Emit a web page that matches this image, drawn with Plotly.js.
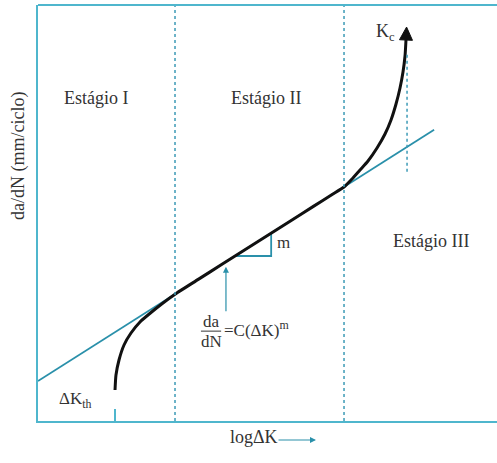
<!DOCTYPE html>
<html>
<head>
<meta charset="utf-8">
<script src="https://cdn.plot.ly/plotly-3.0.1.min.js"></script>
<style>html,body{margin:0;padding:0;background:#fff;}#chart{width:497px;height:463px;}</style>
</head>
<body>
<div id="chart"></div>
<script>
// Schematic coordinates (arbitrary log units, axis range 0..10)
const parisX = [0, 8.63];
const parisY = [0.96, 7.0];
const curveX = [1.678, 1.699, 1.765, 1.874, 2.026, 2.222, 2.462, 2.723, 2.985, 3.5, 4.0, 4.5, 5.0, 5.5, 6.0, 6.4, 6.667,
                6.841, 7.015, 7.190, 7.386, 7.560, 7.691, 7.800, 7.887, 7.952, 7.996, 8.017];
const curveY = [0.745, 1.106, 1.466, 1.827, 2.115, 2.380, 2.608, 2.837, 3.049, 3.410, 3.760, 4.110, 4.459, 4.809, 5.159, 5.439, 5.626,
                5.817, 6.034, 6.250, 6.563, 6.899, 7.236, 7.620, 8.005, 8.389, 8.774, 9.159];
const tipX = [8.017, 8.03];
const tipY = [9.159, 9.47];
const stageBounds = [2.985, 6.667];
const kcX = 8.04, kcY = [5.99, 8.85];
const dKth = 1.68;
const stageLabels = ['Estágio I', 'Estágio II', 'Estágio III'];
const stageLabelX = [1.275, 4.967, 8.562];
const stageLabelY = [7.76, 7.76, 4.33];
const slopeX = [4.295, 5.08];

const frame = '#4fb6cd';
const teal = '#2a90aa';
const txt = '#333333';
const serif = 'Liberation Serif, DejaVu Serif, serif';

const lineY = x => parisY[0] + (parisY[1]-parisY[0])/(parisX[1]-parisX[0])*(x-parisX[0]);

const traces = [
  {x: parisX, y: parisY, mode: 'lines', line: {color: teal, width: 1.8}, hoverinfo: 'skip'},
  {x: [slopeX[0], slopeX[1], slopeX[1]], y: [lineY(slopeX[0]), lineY(slopeX[0]), lineY(slopeX[1])],
   mode: 'lines', line: {color: teal, width: 1.8}, hoverinfo: 'skip'},
  {x: curveX, y: curveY, mode: 'lines', line: {color: '#111', width: 3, shape: 'spline', smoothing: 0.6}, hoverinfo: 'skip'},
  {x: tipX, y: tipY, mode: 'markers', marker: {symbol: 'arrow-up', size: [0, 13], color: '#111', opacity: 1, angleref: 'previous', line: {width: 1, color: '#111'}}, hoverinfo: 'skip'}
];

const shapes = [
  ...stageBounds.map(b => ({type: 'line', xref: 'x', yref: 'paper', x0: b, x1: b, y0: 0, y1: 1, line: {color: '#3d9ab6', width: 1.5, dash: 'dot'}})),
  {type: 'line', xref: 'x', yref: 'y', x0: kcX, x1: kcX, y0: kcY[0], y1: kcY[1], line: {color: '#3d9ab6', width: 1.5, dash: 'dot'}},
  {type: 'line', xref: 'paper', yref: 'paper', x0: 0, x1: 1, y0: 1, y1: 1, line: {color: frame, width: 2}},
  {type: 'line', xref: 'x', yref: 'y', x0: 3.55, x1: 3.99, y0: 2.16, y1: 2.16, line: {color: txt, width: 1}}
];

const A = (o) => Object.assign({xref: 'x', yref: 'y', xanchor: 'center', yanchor: 'middle', showarrow: false,
                                font: {family: serif, size: 18, color: txt}}, o);

const annotations = [
  ...stageLabels.map((t, i) => A({x: stageLabelX[i], y: stageLabelY[i], text: t})),
  A({x: 7.58, y: 9.33, text: 'K<sub>c</sub>'}),
  A({x: 0.82, y: 0.5, text: 'ΔK<sub>th</sub>', font: {family: serif, size: 17, color: txt}}),
  A({x: 5.34, y: 4.3, text: 'm', font: {family: serif, size: 17, color: txt}}),
  A({x: 3.77, y: 2.40, text: 'da', font: {family: serif, size: 17, color: txt}}),
  A({x: 3.77, y: 1.90, text: 'dN', font: {family: serif, size: 17, color: txt}}),
  A({x: 4.76, y: 2.2, text: '=C(ΔK)<sup>m</sup>', font: {family: serif, size: 17, color: txt}}),
  {x: 4.095, y: lineY(4.095) - 0.12, ax: 4.095, ay: 2.6, xref: 'x', yref: 'y', axref: 'x', ayref: 'y', text: '', showarrow: true, arrowhead: 2, arrowsize: 1, arrowwidth: 1.2, arrowcolor: teal},
  A({x: 0.4706, y: -0.0385, xref: 'paper', yref: 'paper', text: 'logΔK'}),
  {x: 0.6057, y: -0.0457, xref: 'paper', yref: 'paper', ax: -39, ay: 0, text: '', showarrow: true, arrowhead: 2, arrowsize: 1, arrowwidth: 1.2, arrowcolor: teal},
  A({x: -0.0436, y: 0.637, xref: 'paper', yref: 'paper', text: 'da/dN (mm/ciclo)', textangle: -90})
];

const layout = {
  width: 497, height: 463,
  margin: {l: 38, r: 0, t: 5, b: 42},
  paper_bgcolor: '#fff', plot_bgcolor: '#fff',
  showlegend: false,
  xaxis: {range: [0, 10], showgrid: false, zeroline: false, showline: true, linecolor: frame, linewidth: 2,
          tickvals: [dKth], ticks: 'inside', ticklen: 12, tickwidth: 2, tickcolor: frame, showticklabels: false, fixedrange: true},
  yaxis: {range: [0, 10], showgrid: false, zeroline: false, showline: true, linecolor: frame, linewidth: 2,
          showticklabels: false, ticks: '', fixedrange: true},
  shapes: shapes,
  annotations: annotations
};

Plotly.newPlot('chart', traces, layout, {displayModeBar: false, staticPlot: true});
</script>
</body>
</html>
